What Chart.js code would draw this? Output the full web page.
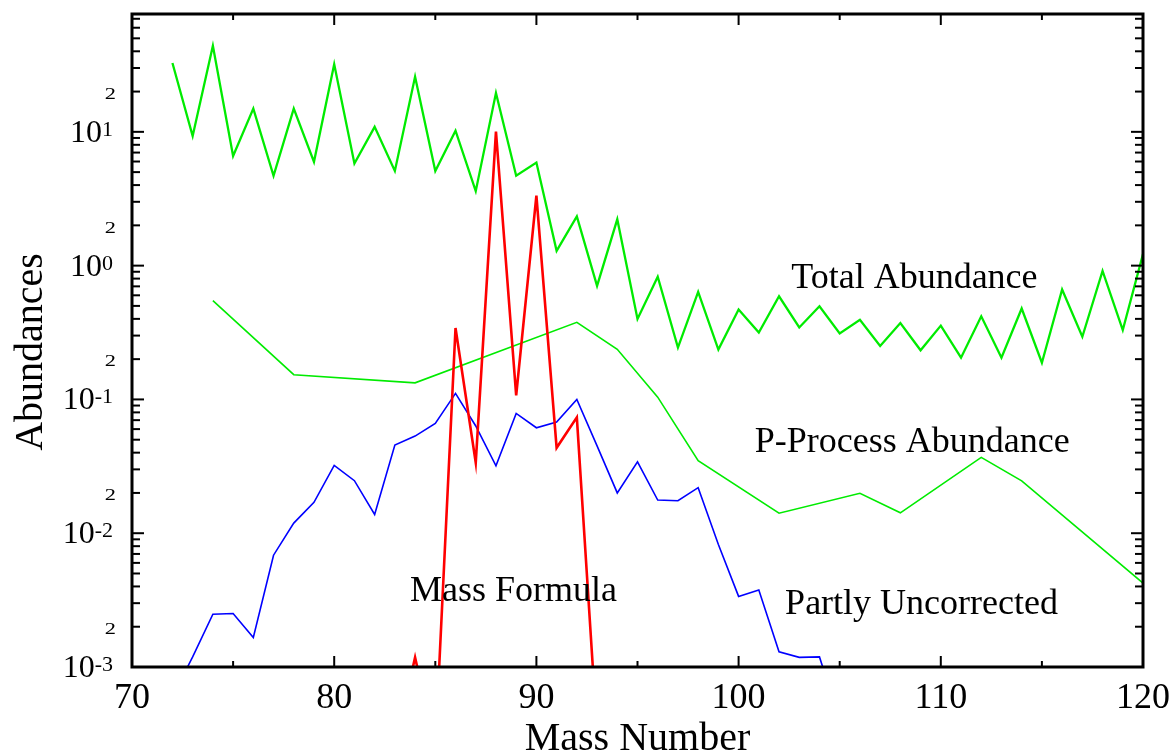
<!DOCTYPE html>
<html>
<head>
<meta charset="utf-8">
<script src="https://cdn.jsdelivr.net/npm/chart.js@4.4.1/dist/chart.umd.min.js"></script>
<style>
  html, body { margin: 0; padding: 0; background: #fff; }
  canvas { display: block; }
</style>
</head>
<body>
<canvas id="grafico" width="1171" height="755"></canvas>
<script>
// Total abundance (zigzag verde)
const massaTotal = [72, 73, 74, 75, 76, 77, 78, 79, 80, 81, 82, 83, 84, 85, 86, 87, 88, 89, 90, 91,
  92, 93, 94, 95, 96, 97, 98, 99, 100, 101, 102, 103, 104, 105, 106, 107, 108, 109, 110, 111,
  112, 113, 114, 115, 116, 117, 118, 119, 120];
const abundTotal = [32.7, 9.3, 44, 6.6, 14.9, 4.7, 14.9, 5.97, 32, 5.8, 10.9, 5.1, 25.8, 5.1, 10.2, 3.6,
  19.5, 4.7, 5.9, 1.29, 2.33, 0.705, 2.22, 0.40, 0.826, 0.244, 0.637, 0.236, 0.47, 0.316, 0.59, 0.345,
  0.497, 0.311, 0.394, 0.251, 0.372, 0.233, 0.356, 0.205, 0.418, 0.205, 0.478, 0.188, 0.664, 0.294,
  0.912, 0.33, 1.22];

// P-process (verde fino)
const massaP = [74, 78, 84, 92, 94, 96, 98, 102, 106, 108, 112, 114, 120];
const abundP = [0.547, 0.153, 0.133, 0.377, 0.237, 0.104, 0.0348, 0.0141, 0.0199, 0.0142, 0.0369, 0.0246, 0.00424];

// Partly uncorrected (azul)
const massaParcial = [72, 73, 74, 75, 76, 77, 78, 79, 80, 81, 82, 83, 84, 85, 86, 87, 88, 89, 90, 91,
  92, 93, 94, 95, 96, 97, 98, 99, 100, 101, 102, 103, 104, 105];
const abundParcial = [0.0006, 0.00119, 0.00248, 0.00251, 0.00166, 0.00685, 0.0119, 0.017, 0.0321, 0.0247,
  0.0138, 0.0456, 0.0532, 0.0662, 0.111, 0.0633, 0.0319, 0.0786, 0.0614, 0.0678, 0.1, 0.045, 0.02, 0.0342,
  0.0177, 0.0175, 0.0219, 0.00824, 0.00337, 0.00376, 0.0013, 0.00118, 0.00119, 0.0004];

// Mass formula (vermelho)
const massaFormula = [83, 84, 85, 86, 87, 88, 89, 90, 91, 92, 93];
const abundFormula = [0.00025, 0.00118, 0.00025, 0.342, 0.0337, 10.05, 0.107, 3.34, 0.0435, 0.0735, 0.00032];

// eixos
const xMaiores = [70, 80, 90, 100, 110, 120];
const xMenores = [75, 85, 95, 105, 115];
const yExpoentes = [-3, -2, -1, 0, 1];
const yMin = 0.001;
const yMax = 76;

// rotulos dentro do grafico: [texto, massa, abundancia (linha de base)]
const rotulos = [
  ['Total Abundance', 102.6, 0.68],
  ['P-Process Abundance', 100.8, 0.0405],
  ['Partly Uncorrected', 102.3, 0.00248],
  ['Mass Formula', 83.75, 0.0031]
];

const pares = (xs, ys) => xs.map((m, i) => ({ x: m, y: ys[i] }));
const fonte = '"Liberation Serif", "Times New Roman", serif';

const pluginEixos = {
  id: 'pluginEixos',
  afterDraw(chart) {
    const { ctx, chartArea: { left, right, top, bottom }, scales: { x, y } } = chart;
    ctx.save();
    ctx.strokeStyle = '#000';
    ctx.fillStyle = '#000';

    const linha = (x1, y1, x2, y2) => {
      ctx.beginPath();
      ctx.moveTo(x1, y1);
      ctx.lineTo(x2, y2);
      ctx.stroke();
    };

    // marcas do eixo x (em cima e embaixo, para dentro)
    ctx.lineWidth = 2;
    xMaiores.concat(xMenores).forEach(v => {
      const px = x.getPixelForValue(v);
      const tam = xMaiores.includes(v) ? 11 : 6;
      linha(px, bottom, px, bottom - tam);
      linha(px, top, px, top + tam);
    });

    // marcas do eixo y (log)
    yExpoentes.forEach(e => {
      for (let m = 1; m <= 9; m++) {
        const v = m * Math.pow(10, e);
        if (v < yMin || v > yMax) continue;
        const py = y.getPixelForValue(v);
        const tam = m === 1 ? 12 : 8;
        linha(left, py, left + tam, py);
        linha(right, py, right - tam, py);
      }
    });

    // moldura
    ctx.lineWidth = 3;
    ctx.strokeRect(left, top, right - left, bottom - top);

    // rotulos do eixo x
    ctx.font = '36px ' + fonte;
    ctx.textAlign = 'center';
    ctx.textBaseline = 'alphabetic';
    xMaiores.forEach(v => {
      ctx.fillText(String(v), x.getPixelForValue(v), 708);
    });

    // rotulos do eixo y: 10^n e o "2"
    const xDir = 113;
    yExpoentes.forEach(e => {
      const py = y.getPixelForValue(Math.pow(10, e));
      const sup = String(e);
      ctx.textAlign = 'right';
      ctx.textBaseline = 'alphabetic';
      ctx.font = '22px ' + fonte;
      const wSup = ctx.measureText(sup).width;
      ctx.fillText(sup, xDir, py + 4);
      ctx.font = '32px ' + fonte;
      ctx.fillText('10', xDir - wSup, py + 10);

      // o "2" e mais largo no original
      const py2 = y.getPixelForValue(2 * Math.pow(10, e));
      ctx.save();
      ctx.translate(116, py2 + 3);
      ctx.scale(1.4, 1);
      ctx.font = '16px ' + fonte;
      ctx.textBaseline = 'middle';
      ctx.fillText('2', 0, 0);
      ctx.restore();
    });

    // titulos dos eixos
    ctx.font = '40px ' + fonte;
    ctx.textAlign = 'center';
    ctx.textBaseline = 'alphabetic';
    ctx.fillText('Mass Number', (left + right) / 2, 750);

    ctx.save();
    ctx.translate(42, 352);
    ctx.rotate(-Math.PI / 2);
    ctx.fillText('Abundances', 0, 0);
    ctx.restore();

    // legendas das curvas
    ctx.font = '36px ' + fonte;
    ctx.textAlign = 'left';
    rotulos.forEach(([txt, m, a]) => {
      ctx.fillText(txt, x.getPixelForValue(m), y.getPixelForValue(a));
    });

    ctx.restore();
  }
};

const ctx = document.getElementById('grafico').getContext('2d');
new Chart(ctx, {
  type: 'line',
  data: {
    datasets: [
      { label: 'Mass Formula', data: pares(massaFormula, abundFormula), borderColor: '#ff0000', borderWidth: 2.6 },
      { label: 'Partly Uncorrected', data: pares(massaParcial, abundParcial), borderColor: '#0000ff', borderWidth: 1.6 },
      { label: 'Total Abundance', data: pares(massaTotal, abundTotal), borderColor: 'rgb(0,235,0)', borderWidth: 2.3 },
      { label: 'P-Process Abundance', data: pares(massaP, abundP), borderColor: 'rgb(0,235,0)', borderWidth: 1.6 }
    ]
  },
  options: {
    responsive: false,
    animation: false,
    devicePixelRatio: 1,
    elements: {
      point: { radius: 0 },
      line: { tension: 0, fill: false }
    },
    layout: {
      padding: { left: 132, right: 28, top: 14, bottom: 88 }
    },
    plugins: {
      legend: { display: false },
      title: { display: false },
      tooltip: { enabled: false }
    },
    scales: {
      x: { type: 'linear', min: 70, max: 120, display: false },
      y: { type: 'logarithmic', min: yMin, max: yMax, display: false }
    }
  },
  plugins: [pluginEixos]
});
</script>
</body>
</html>
